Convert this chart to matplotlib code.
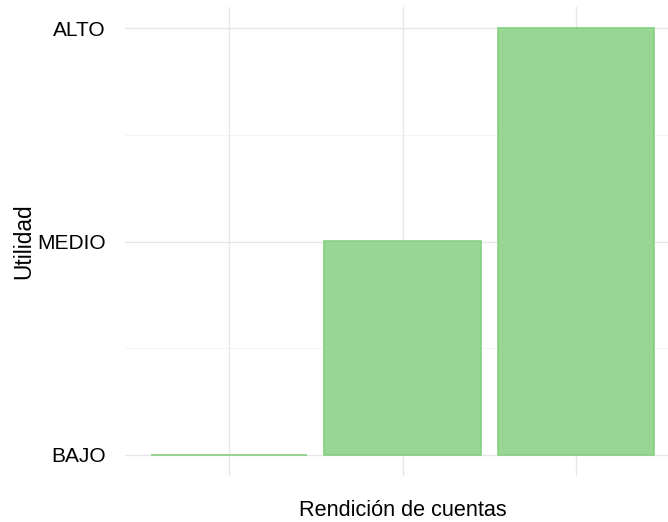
import matplotlib
matplotlib.use("Agg")
import matplotlib.pyplot as plt

categories = ["A", "B", "C"]
levels = ["BAJO", "MEDIO", "ALTO"]
values = ["BAJO", "MEDIO", "ALTO"]

plt.rcParams['font.family'] = ['Liberation Sans', 'DejaVu Sans']

fig = plt.figure(figsize=(6.68, 5.22), dpi=100)
W, H = 668, 522
left, right, bottom, top = 125, 680, 476, 7
ax = fig.add_axes([left / W, (H - bottom) / H, (right - left) / W, (bottom - top) / H])

xpos = list(range(1, len(categories) + 1))
yvals = [levels.index(v) + 1 for v in values]
base = 1
ax.bar(xpos, [y - base for y in yvals], bottom=base, width=0.9,
       color='#97d693', edgecolor='#85cf80', linewidth=1.2, zorder=3)

ax.set_xlim(0.4, 3.6)
ax.set_ylim(0.9, 3.1)
ax.set_xticks(xpos)
ax.set_xticklabels([""] * len(xpos))
ax.set_yticks([1, 2, 3])
ax.set_yticklabels(levels)
ax.set_yticks([1.5, 2.5], minor=True)

ax.grid(True, which='major', color='#e6e6e6', linewidth=0.9, zorder=0)
ax.grid(True, which='minor', axis='y', color='#f2f2f2', linewidth=0.6, zorder=0)
for s in ax.spines.values():
    s.set_visible(False)
ax.tick_params(axis='both', which='both', length=0, labelsize=15, colors='black')
ax.tick_params(axis='y', pad=14)

ax.set_xlabel("Rendición de cuentas", fontsize=15.6, labelpad=13.5)
ax.set_ylabel("Utilidad", fontsize=16.4)
ax.yaxis.set_label_coords((35 - left) / (right - left), 0.5)

fig.savefig("out.png", dpi=100)
